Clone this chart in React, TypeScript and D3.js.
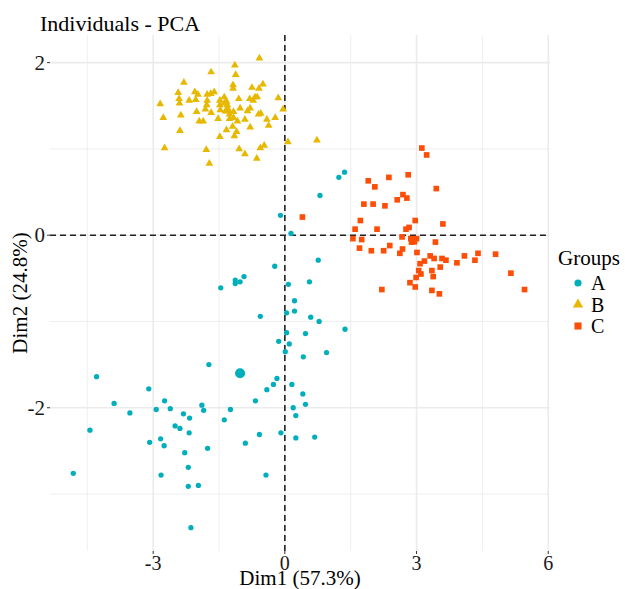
import React from 'react';
import * as d3 from 'd3';

const W = 625;
const H = 589;
const FONT = '"Liberation Serif", "Times New Roman", Times, serif';

// panel in pixels, axis limits in data units (ggplot expanded limits)
const PANEL = { left: 50, right: 550, top: 35, bottom: 551 };
const X_LIM = [-5.35, 6.04];
const Y_LIM = [-3.66, 2.32];

const xMajor = [-3, 0, 3, 6];
const xMinor = [-4.5, -1.5, 1.5, 4.5];
const yMajor = [-2, 0, 2];
const yMinor = [-3, -1, 1];

const groupNames = ['A', 'B', 'C'];
const groupColors = ['#00AFBB', '#E7B800', '#FC4E07'];

// Dim1, Dim2
const groupA: [number, number][] = [
  [1.36, 0.73], [1.23, 0.67], [0.80, 0.46], [-0.10, 0.23], [0.14, 0.02],
  [0.76, -0.29], [-0.23, -0.36], [-0.93, -0.48], [-1.13, -0.52], [-1.02, -0.54],
  [-1.13, -0.56], [-1.46, -0.61], [0.08, -0.57], [0.56, -0.54], [0.22, -0.76],
  [0.22, -0.88], [0.04, -0.90], [-0.56, -0.94], [0.59, -0.95], [0.78, -1.00],
  [1.37, -1.09], [0.04, -1.13], [0.47, -1.14], [-0.14, -1.23], [0.10, -1.26],
  [0.01, -1.35], [0.95, -1.36], [0.42, -1.41], [-1.73, -1.50], [-4.29, -1.64],
  [-3.10, -1.78], [-3.89, -1.95], [-2.74, -1.92], [-2.93, -2.02], [-2.61, -2.01],
  [-1.89, -1.97], [-1.85, -2.03], [-3.53, -2.06], [-2.31, -2.07], [-2.17, -2.12],
  [-1.24, -2.02], [-0.67, -1.92], [-1.38, -2.14], [-4.44, -2.26], [-2.50, -2.21],
  [-2.39, -2.24], [-2.18, -2.29], [-0.58, -2.31], [-3.08, -2.40], [-2.83, -2.36],
  [-2.75, -2.44], [-2.28, -2.52], [-1.76, -2.47], [-0.90, -2.41], [-4.82, -2.76],
  [-2.20, -2.69], [-2.82, -2.78], [-2.20, -2.91], [-1.97, -2.90], [-2.14, -3.39],
  [-0.18, -1.66], [-0.26, -1.73], [0.16, -1.73], [-0.41, -1.79], [0.41, -1.84],
  [0.19, -2.00], [0.47, -1.96], [0.25, -2.09], [-0.09, -2.29], [0.25, -2.35],
  [0.68, -2.34], [-0.43, -2.78],
];

const groupB: [number, number][] = [
  [-0.58, 2.05], [-1.14, 1.97], [-1.68, 1.89], [-1.12, 1.86], [-2.30, 1.77],
  [-0.50, 1.75], [-1.18, 1.74], [-1.18, 1.70], [-0.75, 1.71], [-0.59, 1.70],
  [-2.43, 1.65], [-2.05, 1.66], [-1.98, 1.63], [-1.77, 1.63], [-1.69, 1.64],
  [-1.61, 1.66], [-2.84, 1.52], [-2.41, 1.58], [-2.40, 1.53], [-2.18, 1.56],
  [-2.03, 1.57], [-1.77, 1.56], [-1.48, 1.56], [-1.38, 1.60], [-1.33, 1.55],
  [-1.05, 1.58], [-0.80, 1.58], [-0.68, 1.60], [-0.63, 1.60], [-0.72, 1.56],
  [-0.15, 1.59], [-1.78, 1.51], [-1.48, 1.51], [-1.38, 1.53], [-1.31, 1.51],
  [-0.04, 1.46], [-1.02, 1.47], [-0.79, 1.47], [-0.85, 1.44], [-1.47, 1.45],
  [-1.31, 1.44], [-1.17, 1.43], [-2.01, 1.43], [-1.81, 1.46], [-1.68, 1.42],
  [-2.77, 1.36], [-2.37, 1.39], [-1.95, 1.32], [-1.86, 1.32], [-1.52, 1.35],
  [-1.26, 1.40], [-1.26, 1.35], [-1.17, 1.36], [-1.08, 1.32], [-0.91, 1.34],
  [-0.60, 1.40], [-0.55, 1.41], [-0.41, 1.34], [-0.22, 1.36], [-2.39, 1.21],
  [-1.33, 1.22], [-1.19, 1.26], [-1.10, 1.20], [-0.79, 1.25], [-0.37, 1.27],
  [-1.48, 1.14], [-1.15, 1.15], [-2.74, 1.01], [-1.79, 0.99], [-1.04, 1.00],
  [-0.56, 1.01], [-0.47, 1.04], [-0.91, 0.94], [-0.64, 0.89], [-1.72, 0.83],
  [0.07, 1.08], [0.73, 1.10],
];

const groupC: [number, number][] = [
  [3.12, 1.01], [3.23, 0.93], [2.81, 0.70], [2.37, 0.67], [1.90, 0.63],
  [2.05, 0.56], [3.45, 0.54], [2.69, 0.47], [2.56, 0.41], [2.78, 0.43],
  [1.80, 0.36], [2.01, 0.36], [2.28, 0.34], [0.40, 0.21], [1.72, 0.17],
  [2.97, 0.17], [3.60, 0.13], [1.60, 0.07], [2.10, 0.07], [2.76, 0.07],
  [2.83, 0.09], [1.55, -0.04], [1.75, -0.05], [2.67, -0.02], [2.87, -0.04],
  [2.94, -0.06], [3.00, -0.04], [2.89, -0.08], [3.43, -0.08], [1.70, -0.15],
  [1.97, -0.18], [2.25, -0.18], [2.39, -0.12], [2.68, -0.16], [2.62, -0.21],
  [3.01, -0.20], [3.31, -0.24], [3.40, -0.27], [3.58, -0.27], [3.67, -0.29],
  [3.18, -0.30], [3.08, -0.33], [4.09, -0.24], [4.40, -0.21], [4.33, -0.29],
  [4.80, -0.22], [3.92, -0.32], [3.54, -0.37], [3.05, -0.41], [3.10, -0.45],
  [3.35, -0.41], [3.38, -0.48], [2.99, -0.49], [2.85, -0.55], [2.97, -0.60],
  [2.21, -0.63], [3.35, -0.64], [3.52, -0.68], [5.15, -0.44], [5.46, -0.63],
];

// group centres (large marks)
const meanDim1 = [-1.02, -1.31, 2.92];
const meanDim2 = [-1.60, 1.45, -0.06];

const shapeOf = [d3.symbolCircle, d3.symbolTriangle, d3.symbolSquare];
const pointSize = [22, 26, 32];
const meanSize = [80, 60, 72];

export default function App() {
  const x = d3.scaleLinear().domain(X_LIM).range([PANEL.left, PANEL.right]);
  const y = d3.scaleLinear().domain(Y_LIM).range([PANEL.bottom, PANEL.top]);
  const groups = [groupA, groupB, groupC];
  const grid = '#EBEBEB';
  const midY = (PANEL.top + PANEL.bottom) / 2;
  const midX = (PANEL.left + PANEL.right) / 2;

  return (
    <svg width={W} height={H}
      style={{ display: 'block', position: 'absolute', left: 0, top: 0, background: '#fff', fontFamily: FONT }}>
      {/* grid */}
      {xMinor.map(v => (
        <line key={'xm' + v} x1={x(v)} x2={x(v)} y1={PANEL.top} y2={PANEL.bottom} stroke={grid} strokeWidth={0.8} />
      ))}
      {yMinor.map(v => (
        <line key={'ym' + v} x1={PANEL.left} x2={PANEL.right} y1={y(v)} y2={y(v)} stroke={grid} strokeWidth={0.8} />
      ))}
      {xMajor.map(v => (
        <line key={'xM' + v} x1={x(v)} x2={x(v)} y1={PANEL.top} y2={PANEL.bottom} stroke={grid} strokeWidth={1.6} />
      ))}
      {yMajor.map(v => (
        <line key={'yM' + v} x1={PANEL.left} x2={PANEL.right} y1={y(v)} y2={y(v)} stroke={grid} strokeWidth={1.6} />
      ))}

      {/* reference lines */}
      <line x1={PANEL.left} x2={PANEL.right} y1={y(0)} y2={y(0)} stroke="#222" strokeWidth={1.6} strokeDasharray="6,4" />
      <line x1={x(0)} x2={x(0)} y1={PANEL.top} y2={PANEL.bottom} stroke="#222" strokeWidth={1.6} strokeDasharray="6,4" />

      {/* points */}
      {groups.map((pts, gi) => (
        <g key={groupNames[gi]} fill={groupColors[gi]}>
          {pts.map((p, i) => (
            <path key={i} d={d3.symbol(shapeOf[gi], pointSize[gi])() as string}
              transform={`translate(${x(p[0])},${y(p[1])})`} />
          ))}
        </g>
      ))}
      {groupNames.map((g, gi) => (
        <path key={'mean' + g} fill={groupColors[gi]} d={d3.symbol(shapeOf[gi], meanSize[gi])() as string}
          transform={`translate(${x(meanDim1[gi])},${y(meanDim2[gi])})`} />
      ))}

      {/* axes */}
      {xMajor.map(v => (
        <g key={'xt' + v}>
          <line x1={x(v)} x2={x(v)} y1={PANEL.bottom} y2={PANEL.bottom + 3} stroke="#333" strokeWidth={1} />
          <text x={x(v)} y={570} textAnchor="middle" fontSize={20} fill="#1a1a1a">{v}</text>
        </g>
      ))}
      {yMajor.map(v => (
        <g key={'yt' + v}>
          <line x1={PANEL.left - 3} x2={PANEL.left} y1={y(v)} y2={y(v)} stroke="#333" strokeWidth={1} />
          <text x={PANEL.left - 5} y={y(v) + 7} textAnchor="end" fontSize={21} fill="#1a1a1a">{v}</text>
        </g>
      ))}

      <text x={midX} y={585} textAnchor="middle" fontSize={21} fill="#000">Dim1 (57.3%)</text>
      <text transform={`translate(27,${midY}) rotate(-90)`} textAnchor="middle" fontSize={21} fill="#000">Dim2 (24.8%)</text>
      <text x={40} y={31} fontSize={22} fill="#000">Individuals - PCA</text>

      {/* legend */}
      <text x={558} y={265} fontSize={21} fill="#000">Groups</text>
      {groupNames.map((g, gi) => (
        <g key={'lg' + g} transform={`translate(578,${283 + gi * 21.5})`}>
          <path fill={groupColors[gi]} d={d3.symbol(shapeOf[gi], [40, 46, 50][gi])() as string} />
          <text x={13} y={7} fontSize={20} fill="#000">{g}</text>
        </g>
      ))}
    </svg>
  );
}
